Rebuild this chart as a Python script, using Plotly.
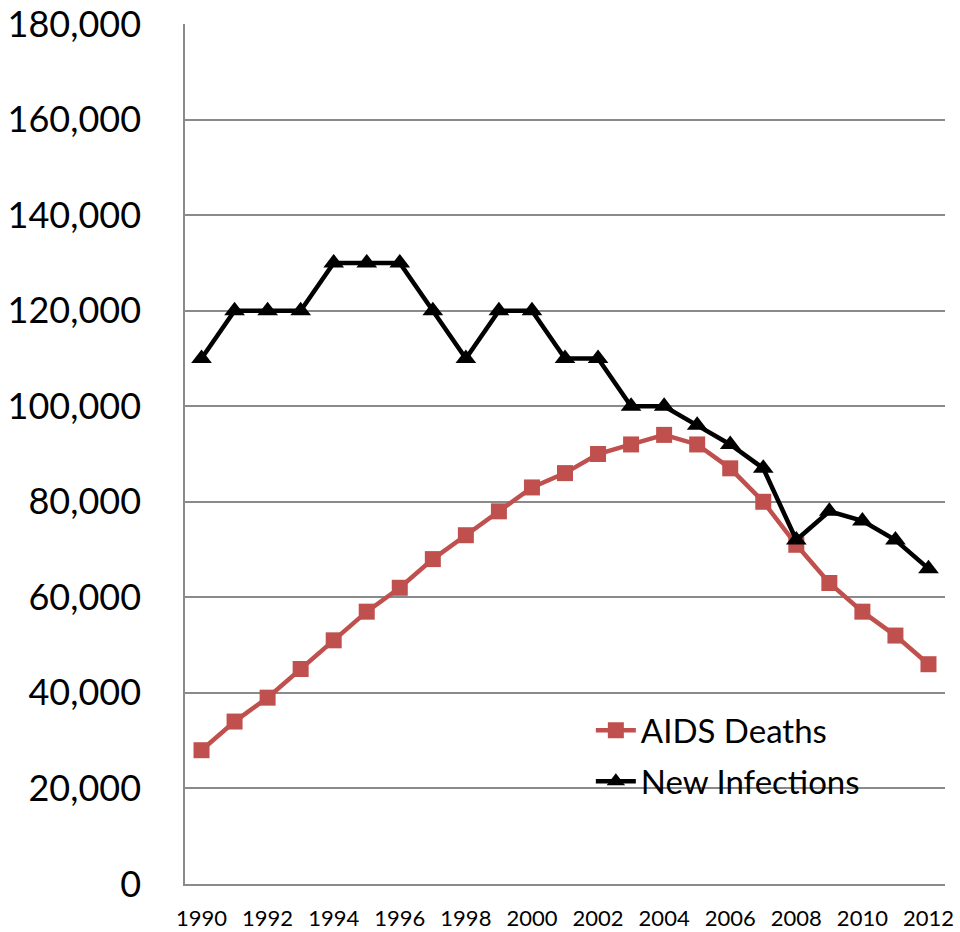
import plotly.graph_objects as go

years = list(range(1990, 2013))
aids_deaths = [28000, 34000, 39000, 45000, 51000, 57000, 62000, 68000, 73000, 78000,
               83000, 86000, 90000, 92000, 94000, 92000, 87000, 80000, 71000, 63000,
               57000, 52000, 46000]
new_infections = [110000, 120000, 120000, 120000, 130000, 130000, 130000, 120000, 110000,
                  120000, 120000, 110000, 110000, 100000, 100000, 96000, 92000, 87000,
                  72000, 78000, 76000, 72000, 66000]
x_ticks = list(range(1990, 2013, 2))
y_ticks = list(range(0, 180001, 20000))

fig = go.Figure()
fig.add_trace(go.Scatter(
    x=years, y=aids_deaths, name="AIDS Deaths", mode="lines+markers",
    legendgroup="a",
    line=dict(color="#C0504D", width=4.5),
    marker=dict(symbol="square", size=16, color="#C0504D"),
))
fig.add_trace(go.Scatter(
    x=years, y=new_infections, name="New Infections", mode="lines+markers",
    legendgroup="b",
    line=dict(color="#000000", width=4.5),
    marker=dict(symbol="triangle-up", size=18, color="#000000"),
))

fig.update_layout(
    width=960, height=932,
    margin=dict(l=185, r=15, t=24, b=48),
    paper_bgcolor="white", plot_bgcolor="white",
    font=dict(family="Lato, sans-serif", color="black"),
    showlegend=True,
    legend=dict(
        x=0.534, y=0.149, xanchor="left", yanchor="middle",
        bgcolor="rgba(0,0,0,0)", font=dict(size=33, family="Lato", color="black"),
        tracegroupgap=5, itemwidth=40,
    ),
    xaxis=dict(
        range=[1989.5, 2012.5], tickmode="array", tickvals=x_ticks,
        ticktext=[str(v) for v in x_ticks], tickangle=0, automargin=False,
        ticklabeloverflow="allow",
        showgrid=False, showline=True, linecolor="#8a8a8a", linewidth=1.5,
        ticks="", tickfont=dict(size=22, family="Lato", color="black"),
        ticklabelstandoff=14, zeroline=False,
    ),
    yaxis=dict(
        range=[0, 180000], tickmode="array", tickvals=y_ticks,
        ticktext=[f"{v:,}" for v in y_ticks], automargin=False,
        ticklabeloverflow="allow",
        showgrid=True, gridcolor="#8a8a8a", gridwidth=1.5,
        showline=True, linecolor="#8a8a8a", linewidth=1.5,
        ticks="", tickfont=dict(size=36, family="Lato", color="black"),
        ticklabelstandoff=35, zeroline=False,
    ),
)

fig.write_html("out.html", config={"displayModeBar": False},
               post_script="document.body.style.margin='0px';")
